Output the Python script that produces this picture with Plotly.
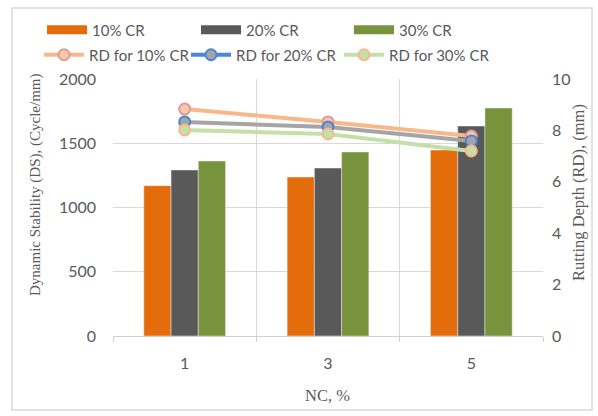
import plotly.graph_objects as go

categories = ["1", "3", "5"]
ds_10 = [1170, 1237, 1447]
ds_20 = [1292, 1307, 1634]
ds_30 = [1362, 1432, 1774]
rd_10 = [8.83, 8.33, 7.78]
rd_20 = [8.33, 8.13, 7.59]
rd_30 = [8.02, 7.86, 7.20]

bar_colors = ["#E46C0A", "#595959", "#77933C"]
bar_names = ["10% CR", "20% CR", "30% CR"]

fig = go.Figure()
for vals, name, col in zip([ds_10, ds_20, ds_30], bar_names, bar_colors):
    fig.add_trace(go.Bar(x=categories, y=vals, name=name, marker_color=col, showlegend=False))
# legend entries for bars drawn as wide rectangles
for i, (name, col) in enumerate(zip(bar_names, bar_colors)):
    fig.add_trace(go.Scatter(x=[None], y=[None], name=name, mode="lines",
                             line=dict(color=col, width=9),
                             legend="legend" if i == 0 else f"legend{i + 1}"))

fig.add_trace(go.Scatter(x=categories, y=rd_10, name="RD for 10% CR", yaxis="y2",
                         mode="lines+markers", legend="legend4",
                         line=dict(color="#F8B88B", width=4),
                         marker=dict(size=11, color="#F8C9A8", line=dict(color="#E09A9A", width=2))))
fig.add_trace(go.Scatter(x=categories, y=rd_20, name="RD for 20% CR", yaxis="y2",
                         mode="lines+markers", showlegend=False,
                         line=dict(color="#A5A5A5", width=4),
                         marker=dict(size=11, color="#A5A5A5", line=dict(color="#4A86D8", width=2))))
fig.add_trace(go.Scatter(x=[None], y=[None], name="RD for 20% CR", yaxis="y2",
                         mode="lines+markers", legend="legend5",
                         line=dict(color="#4A86D8", width=4),
                         marker=dict(size=11, color="#A5A5A5", line=dict(color="#4A86D8", width=2))))
fig.add_trace(go.Scatter(x=categories, y=rd_30, name="RD for 30% CR", yaxis="y2",
                         mode="lines+markers", legend="legend6",
                         line=dict(color="#C5DFA8", width=4),
                         marker=dict(size=11, color="#C5DFA8", line=dict(color="#F8B88B", width=2))))

font_main = "Lato, Liberation Sans, sans-serif"
serif = "Liberation Serif, serif"
tick_font = dict(family=font_main, size=16, color="#595959")
leg_font = dict(family=font_main, size=15, color="#595959")

PL, PR, PT, PB = 113, 543, 79, 336
W, H = PR - PL, PB - PT

def px_x(x):
    return (x - PL) / W

def px_y(y):
    return (PB - y) / H

def leg(xpx, ypx):
    return dict(orientation="h", xref="paper", yref="paper",
                x=px_x(xpx), xanchor="left", y=px_y(ypx), yanchor="middle",
                itemwidth=40, font=leg_font, bgcolor="rgba(0,0,0,0)")

fig.update_layout(
    width=598, height=416,
    margin=dict(l=PL, r=598 - PR, t=PT, b=416 - PB),
    plot_bgcolor="white", paper_bgcolor="white",
    barmode="group", bargap=0.43, bargroupgap=0,
    showlegend=True,
    legend=leg(42, 30), legend2=leg(196, 30), legend3=leg(349, 30),
    legend4=leg(39, 55), legend5=leg(186, 55), legend6=leg(339, 55),
    xaxis=dict(type="category", tickson="boundaries", ticks="outside", ticklen=5,
               tickcolor="#D0D0D0", showgrid=True, gridcolor="#D9D9D9", automargin=False,
               showline=True, linecolor="#D0D0D0", tickfont=tick_font, ticklabelstandoff=13),
    yaxis=dict(range=[0, 2000], dtick=500, showgrid=True, gridcolor="#D9D9D9",
               zeroline=False, showline=False, tickfont=tick_font, ticklabelstandoff=16,
               automargin=False),
    yaxis2=dict(range=[0, 10], dtick=2, overlaying="y", side="right", showgrid=False,
                zeroline=False, showline=False, tickfont=tick_font, automargin=False,
                ticklabelstandoff=8),
    annotations=[
        dict(text="Dynamic Stability (DS), (Cycle/mm)", textangle=-90, showarrow=False,
             xref="paper", yref="paper", x=px_x(35), y=px_y(185),
             xanchor="center", yanchor="middle",
             font=dict(family=serif, size=15, color="#595959")),
        dict(text="Rutting Depth (RD), (mm)", textangle=-90, showarrow=False,
             xref="paper", yref="paper", x=px_x(578), y=px_y(193),
             xanchor="center", yanchor="middle",
             font=dict(family=serif, size=16.5, color="#595959")),
        dict(text="NC, %", showarrow=False,
             xref="paper", yref="paper", x=px_x(327), y=px_y(395),
             xanchor="center", yanchor="middle",
             font=dict(family=serif, size=16.5, color="#595959")),
    ],
    shapes=[dict(type="rect", xref="paper", yref="paper",
                 x0=px_x(12), x1=px_x(592), y0=px_y(410), y1=px_y(8),
                 line=dict(color="#D9D9D9", width=1.5), fillcolor="rgba(0,0,0,0)", layer="below")],
)

fig.write_html("out.html", config={"displayModeBar": False},
               post_script="document.body.style.margin='0';")
